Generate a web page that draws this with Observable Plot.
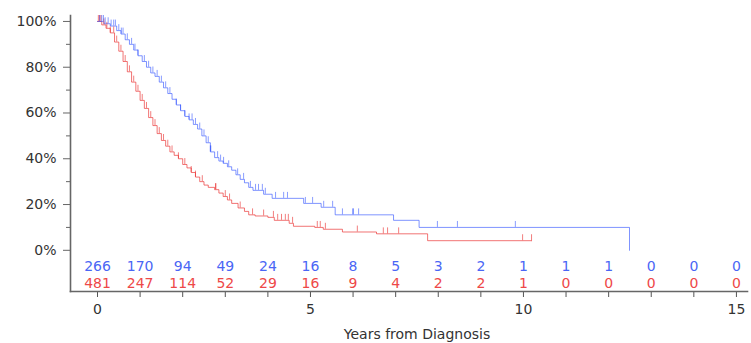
<!DOCTYPE html>
<html>
<head>
<meta charset="utf-8">
<script src="https://cdn.jsdelivr.net/npm/d3@7"></script>
<script src="https://cdn.jsdelivr.net/npm/@observablehq/plot@0.6"></script>
<style>
  html, body { margin: 0; padding: 0; background: #fff; }
</style>
</head>
<body>
<div id="chart"></div>
<script>
// Kaplan-Meier step knots (years, survival %)
const blueTimes = [0,0.15,0.3,0.45,0.55,0.65,0.75,0.85,0.95,1.05,1.15,1.25,1.35,1.45,1.55,1.65,1.75,1.85,1.95,2.05,2.15,2.25,2.35,2.45,2.55,2.65,2.75,2.85,2.95,3.05,3.15,3.25,3.35,3.45,3.55,3.65,3.9,4.1,4.84,5.25,5.58,6.95,7.55,12.49,12.49];
const blueSurv  = [100,99,98,96,94.5,92,90,87.5,85,82.5,80,77.5,76,73.5,71,68.5,66,63.5,61,58.5,57,55,53,50,47,43,40.5,39,38,36.5,35,33,31,29.5,27.5,26.2,24.5,22.7,20.5,18.8,15.5,13.1,10,10,0];

const redTimes = [0,0.1,0.2,0.3,0.4,0.5,0.6,0.7,0.8,0.9,1.0,1.1,1.2,1.3,1.4,1.5,1.6,1.7,1.8,1.9,2.0,2.1,2.2,2.3,2.4,2.5,2.6,2.75,2.85,2.95,3.05,3.15,3.3,3.45,3.55,3.7,4.0,4.15,4.5,4.6,5.1,5.3,5.75,6.55,7.75,10.2];
const redSurv  = [100,98.5,97,95,91,87,82.5,78,73.5,69.5,65.5,62,58,54.5,51,48,45.5,43,41.5,40,37.5,36,34,32,30,28.5,27.5,26.5,25,23.5,22,20.5,18.5,17,15.5,15,14.4,13.1,11.8,10.5,10,9.2,8.0,7.2,4.2,4.2];

// censoring times (years)
const blueCensor = [0.05,0.1,0.14,0.18,0.25,0.32,0.38,0.42,0.5,0.56,0.6,0.7,0.8,0.88,0.95,1.1,1.2,1.3,1.4,1.5,1.6,1.7,1.85,1.95,2.05,2.15,2.22,2.3,2.4,2.5,2.6,2.65,2.66,2.82,2.89,2.96,3.08,3.29,3.43,3.59,3.71,3.78,3.87,3.94,4.18,4.37,4.46,4.88,5.05,5.31,5.52,5.75,5.99,6.01,6.13,7.98,8.45,9.81];
const redCensor = [0.02,0.05,0.08,0.15,0.22,0.3,0.38,0.45,0.55,0.65,0.75,0.85,0.95,1.05,1.15,1.25,1.35,1.45,1.55,1.65,1.75,1.9,2.05,2.2,2.3,2.46,2.77,2.78,3.0,3.1,3.35,3.64,3.9,4.13,4.23,4.32,4.41,4.48,4.58,5.16,5.23,5.35,6.1,6.71,6.81,7.07,9.98,10.19];

// numbers at risk
const riskYears = [0,1,2,3,4,5,6,7,8,9,10,11,12,13,14,15];
const blueAtRisk = [266,170,94,49,24,16,8,5,3,2,1,1,1,0,0,0];
const redAtRisk  = [481,247,114,52,29,16,9,4,2,2,1,0,0,0,0,0];

const yMajor = [0,20,40,60,80,100];
const yMinor = [10,30,50,70,90];
const xLabeled = [0,5,10,15];
const xTitle = "Years from Diagnosis";

const BLUE = "#2a4cff", RED = "#ea2a2a";
const BLUE_TXT = "#4a66f5", RED_TXT = "#ee4848";

function curve(times, surv) { return times.map((t, i) => ({t, s: surv[i]})); }
function survAt(times, surv, t) {
  let v = surv[0];
  for (let i = 0; i < times.length; i++) { if (times[i] <= t) v = surv[i]; else break; }
  return v;
}
const blueCurve = curve(blueTimes, blueSurv);
const redCurve = curve(redTimes, redSurv);
const blueCens = blueCensor.map(t => ({t, s: survAt(blueTimes, blueSurv, t)}));
const redCens = redCensor.map(t => ({t, s: survAt(redTimes, redSurv, t)}));
const blueRisk = riskYears.map((t, i) => ({t, n: blueAtRisk[i]}));
const redRisk = riskYears.map((t, i) => ({t, n: redAtRisk[i]}));

const chart = Plot.plot({
  width: 751,
  height: 343,
  marginLeft: 70,
  marginRight: 4,
  marginTop: 15,
  marginBottom: 52,
  style: {fontFamily: "'DejaVu Sans', sans-serif", fontSize: "14px", color: "#333", background: "#fff"},
  x: {domain: [-0.634, 15.26]},
  y: {domain: [-18, 102.6]},
  marks: [
    Plot.axisY({ticks: yMajor, tickFormat: d => d + "%", tickSize: 7, tickPadding: 7, label: null, stroke: "#666", fontSize: 14}),
    Plot.axisY({ticks: yMinor, tickFormat: () => "", tickSize: 4, label: null, stroke: "#666"}),
    Plot.axisX({ticks: riskYears, tickFormat: d => xLabeled.includes(d) ? String(d) : "", tickSize: 6, tickPadding: 7, stroke: "#555", fontSize: 14, label: null}),
    Plot.text([xTitle], {frameAnchor: "bottom", text: d => d, dx: 8, dy: 47, fill: "#333", fontSize: 14}),
    Plot.frame({anchor: "left", stroke: "#666", strokeWidth: 1.6}),
    Plot.frame({anchor: "bottom", stroke: "#666", strokeWidth: 1.6}),
    Plot.line(redCurve, {x: "t", y: "s", curve: "step-after", stroke: RED, strokeOpacity: 0.65, strokeWidth: 1}),
    Plot.line(blueCurve, {x: "t", y: "s", curve: "step-after", stroke: BLUE, strokeOpacity: 0.6, strokeWidth: 1}),
    Plot.ruleX(redCens, {x: "t", y1: "s", y2: d => d.s + 2.6, stroke: RED, strokeOpacity: 0.6, strokeWidth: 1}),
    Plot.ruleX(blueCens, {x: "t", y1: "s", y2: d => d.s + 2.6, stroke: BLUE, strokeOpacity: 0.55, strokeWidth: 1}),
    Plot.text(blueRisk, {x: "t", y: () => -7, text: "n", fill: BLUE_TXT, fontSize: 14}),
    Plot.text(redRisk, {x: "t", y: () => -14.4, text: "n", fill: RED_TXT, fontSize: 14})
  ]
});
document.getElementById("chart").appendChild(chart);
</script>
</body>
</html>
